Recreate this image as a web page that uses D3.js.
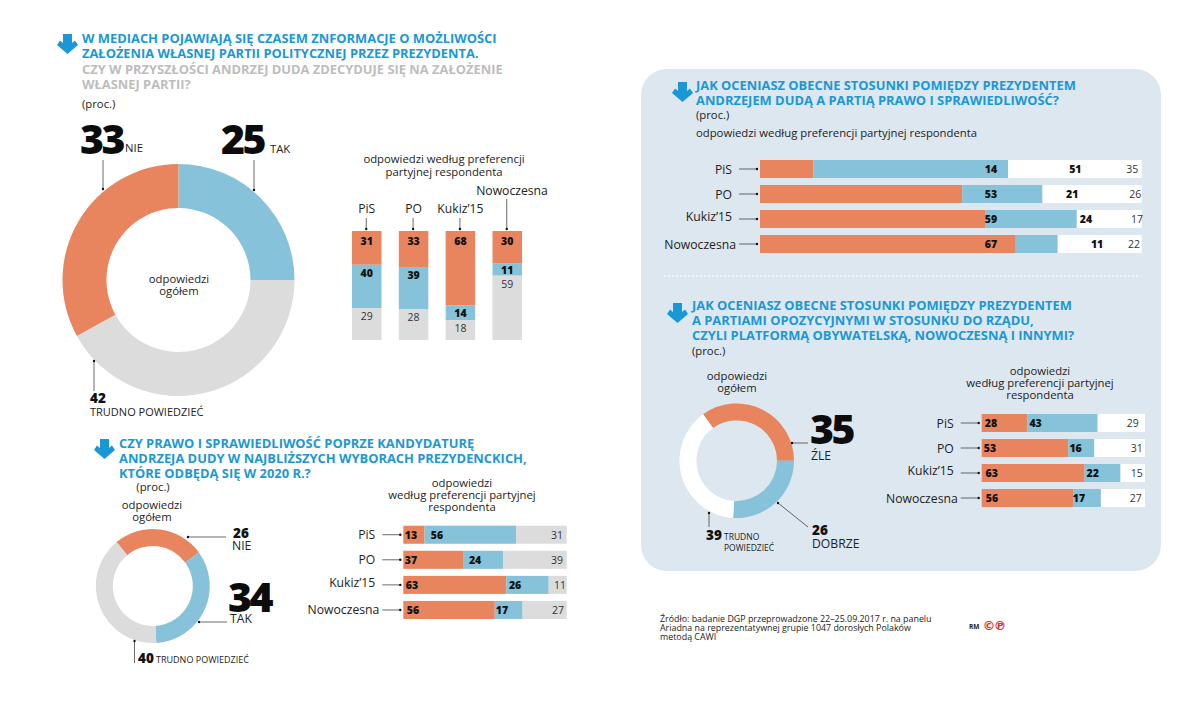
<!DOCTYPE html>
<html>
<head>
<meta charset="utf-8">
<script src="https://cdn.jsdelivr.net/npm/d3@7"></script>
<style>
  html, body { margin: 0; background: #fff; }
  svg { display: block; }
  text { font-family: "Open Sans", sans-serif; fill: #222; }
  .title { font-weight: 700; font-size: 12.9px; fill: #1a98d5; }
  .title.grey { fill: #bdbdbd; }
  .body { font-size: 11.3px; }
  .caps { font-size: 11px; }
  .tiny { font-size: 8.5px; }
  .source { font-size: 8.9px; }
  .party { font-size: 12.2px; }
  .val { font-size: 10.5px; fill: #333; }
  .val.b { font-weight: 800; fill: #111; }
  .big { font-weight: 800; font-size: 41px; letter-spacing: -2.5px; fill: #0c0c0c; }
  .num { font-weight: 800; font-size: 13.5px; fill: #111; }
  .mark { font-family: "DejaVu Sans", sans-serif; font-size: 12.5px; font-weight: 700; fill: #d9342b; }
</style>
</head>
<body>
<svg id="chart" width="1200" height="715"></svg>
<script>
const parties = ["PiS", "PO", "Kukiz’15", "Nowoczesna"];

// donuts
const ownPartyTotal = [25, 42, 33];
const supportTotal = [26, 34, 40];
const oppositionTotal = [35, 26, 39];

// [orange, blue, rest] per party
const ownPartyByParty = [[31, 40, 29], [33, 39, 28], [68, 14, 18], [30, 11, 59]];
const supportByParty = [[13, 56, 31], [37, 24, 39], [63, 26, 11], [56, 17, 27]];
const pisRelationByParty = [[14, 51, 35], [53, 21, 26], [59, 24, 17], [67, 11, 22]];
const oppositionByParty = [[28, 43, 29], [53, 16, 31], [63, 22, 15], [56, 17, 27]];

// where the printed numbers sit along each bar, on the 0-100 axis
const supportLabelAt = [[4.7, 20.6, 94], [4.7, 43.9, 94], [5.3, 68.4, 95.9], [5.9, 60.4, 94.7]];
const pisLabelAt = [[60.5, 82.6, 97.5], [60.5, 81.8, 98.3], [60.5, 85.4, 98.8], [60.5, 88.3, 98]];
const oppositionLabelAt = [[5.7, 33, 92.5], [5.1, 57.5, 94.9], [6.1, 68, 94.9], [6.3, 59.6, 94.3]];

const orange = "#e8855f", blue = "#86c2d9", grey = "#dcdcdc", white = "#fff";

const svg = d3.select("#chart");

function addText(x, y, str, cls, anchor) {
  return svg.append("text")
    .attr("x", x).attr("y", y)
    .attr("class", cls)
    .attr("text-anchor", anchor || "start")
    .text(str);
}

function addLines(x, y, lineH, lines, cls, anchor) {
  lines.forEach((l, i) => addText(x, y + i * lineH, l, cls, anchor));
}

// thin line with a small dot on the end that points at the mark
function leader(x1, y1, x2, y2) {
  svg.append("line")
    .attr("x1", x1).attr("y1", y1).attr("x2", x2).attr("y2", y2)
    .attr("stroke", "#444").attr("stroke-width", 0.8);
  svg.append("circle").attr("cx", x2).attr("cy", y2).attr("r", 1.2).attr("fill", "#111");
}

function arrow(x, y) {
  svg.append("path")
    .attr("transform", `translate(${x},${y})`)
    .attr("d", "M6,0 L15,0 L15,9 L18,6.5 L21,11 L10.5,20 L0,11 L3,6.5 L6,9 Z")
    .attr("fill", "#1a98d5");
}

function donut(cx, cy, outer, inner, values, colors, startDeg) {
  const start = startDeg * Math.PI / 180;
  const pie = d3.pie().sort(null).startAngle(start).endAngle(start + 2 * Math.PI);
  const arc = d3.arc().innerRadius(inner).outerRadius(outer);
  svg.append("g")
    .attr("transform", `translate(${cx},${cy})`)
    .selectAll("path")
    .data(pie(values))
    .join("path")
    .attr("d", arc)
    .attr("fill", (d, i) => colors[i]);
}

function hBars(x0, x1, y0, y1, rows, labelAt, restColor) {
  const x = d3.scaleLinear().domain([0, 100]).range([x0, x1]);
  const y = d3.scaleBand().domain(parties).range([y0, y1]).paddingInner(0.28);
  const colors = [orange, blue, restColor];
  rows.forEach((row, r) => {
    const g = svg.append("g");
    const stack = d3.cumsum(row);
    g.selectAll("rect")
      .data(row)
      .join("rect")
      .attr("x", (d, i) => x(stack[i] - d))
      .attr("y", y(parties[r]))
      .attr("width", (d) => x(d) - x(0))
      .attr("height", y.bandwidth())
      .attr("fill", (d, i) => colors[i]);
    g.selectAll("text")
      .data(row)
      .join("text")
      .attr("x", (d, i) => x(labelAt[r][i]))
      .attr("y", y(parties[r]) + y.bandwidth() / 2 + 4)
      .attr("text-anchor", "middle")
      .attr("class", (d, i) => (i < 2 ? "val b" : "val"))
      .text((d) => d);
    const mid = y(parties[r]) + y.bandwidth() / 2;
    const longName = parties[r] == "Nowoczesna";
    addText(x0 - (longName ? 24 : 28), mid + (parties[r] == "Kukiz’15" ? 2 : 4.5), parties[r], "party", "end");
    leader(x0 - 21, mid, x0 - 3, mid);
  });
}

function vBars(x0, x1, y0, y1, rows) {
  const x = d3.scaleBand().domain(parties).range([x0, x1]).paddingInner(0.37);
  const y = d3.scaleLinear().domain([0, 100]).range([y0, y1]);
  const colors = [orange, blue, grey];
  rows.forEach((row, r) => {
    const stack = d3.cumsum(row);
    const g = svg.append("g").attr("transform", `translate(${x(parties[r])},0)`);
    g.selectAll("rect")
      .data(row)
      .join("rect")
      .attr("y", (d, i) => y(stack[i] - d))
      .attr("width", x.bandwidth())
      .attr("height", (d) => y(d) - y(0))
      .attr("fill", (d, i) => colors[i]);
    g.selectAll("text")
      .data(row)
      .join("text")
      .attr("x", x.bandwidth() / 2)
      .attr("y", (d, i) => y(stack[i] - d) + Math.min(i == 0 ? 14 : 12, (y(d) - y(0)) / 2 + 4))
      .attr("text-anchor", "middle")
      .attr("class", (d, i) => (i < 2 ? "val b" : "val"))
      .text((d) => d);
    const cx = x(parties[r]) + x.bandwidth() / 2;
    const isNow = parties[r] == "Nowoczesna";
    addText(isNow ? 512 : cx, isNow ? 195 : 213, parties[r], "party", "middle");
    leader(cx - 0.5, isNow ? 199 : 218, cx - 0.5, y0 - 2);
  });
}

// panel behind the right column
svg.append("rect")
  .attr("x", 641).attr("y", 69).attr("width", 520).attr("height", 502)
  .attr("rx", 26).attr("fill", "#dde7f0");

// top left: own party
arrow(57, 34);
addLines(82, 43, 15.3, [
  "W MEDIACH POJAWIAJĄ SIĘ CZASEM ZNFORMACJE O MOŻLIWOŚCI",
  "ZAŁOŻENIA WŁASNEJ PARTII POLITYCZNEJ PRZEZ PREZYDENTA."
], "title");
addLines(82, 74, 15.3, [
  "CZY W PRZYSZŁOŚCI ANDRZEJ DUDA ZDECYDUJE SIĘ NA ZAŁOŻENIE",
  "WŁASNEJ PARTII?"
], "title grey");
addText(82, 108, "(proc.)", "body");

donut(178.5, 280, 116, 72, ownPartyTotal, [blue, grey, orange], 0);
addLines(179, 283, 11.5, ["odpowiedzi", "ogółem"], "body", "middle");
addText(80, 154, "33", "big");
addText(125, 152, "NIE", "body");
addText(221, 154, "25", "big");
addText(270, 153, "TAK", "body");
leader(103, 160, 103, 189);
leader(254, 160, 254, 190);
leader(94, 391, 94, 361);
addText(90, 403, "42", "num");
addText(90, 416, "TRUDNO POWIEDZIEĆ", "caps");

addLines(444, 163, 12.5, ["odpowiedzi według preferencji", "partyjnej respondenta"], "body", "middle");
vBars(352, 522, 231, 340, ownPartyByParty);

// bottom left: support in 2020
arrow(94, 439);
addLines(119, 448, 15, [
  "CZY PRAWO I SPRAWIEDLIWOŚĆ POPRZE KANDYDATURĘ",
  "ANDRZEJA DUDY W NAJBLIŻSZYCH WYBORACH PREZYDENCKICH,",
  "KTÓRE ODBĘDĄ SIĘ W 2020 R.?"
], "title");
addText(153, 491, "(proc.)", "body", "middle");
addLines(152, 509, 12, ["odpowiedzi", "ogółem"], "body", "middle");

donut(152.8, 586, 57, 40, supportTotal, [orange, blue, grey], -39.6);
addText(233, 538, "26", "num");
addText(232, 550, "NIE", "party");
leader(226, 537, 188, 537);
addText(228, 612, "34", "big");
addText(230, 623, "TAK", "party");
leader(227, 622, 199, 622);
leader(134.5, 663, 134.5, 641);
addText(138, 663, "40", "num");
addText(156, 663, "TRUDNO POWIEDZIEĆ", "caps").style("font-size", "9px");

addLines(462, 487, 11.8, ["odpowiedzi", "według preferencji partyjnej", "respondenta"], "body", "middle");
hBars(403.3, 566.7, 525.7, 619, supportByParty, supportLabelAt, grey);

// right, upper: relations with PiS
arrow(672, 82);
addLines(696, 90, 15, [
  "JAK OCENIASZ OBECNE STOSUNKI POMIĘDZY PREZYDENTEM",
  "ANDRZEJEM DUDĄ A PARTIĄ PRAWO I SPRAWIEDLIWOŚĆ?"
], "title");
addText(696, 119, "(proc.)", "body");
addText(696, 137, "odpowiedzi według preferencji partyjnej respondenta", "body");
hBars(760, 1141.7, 160, 253, pisRelationByParty, pisLabelAt, white);

svg.append("line")
  .attr("x1", 664).attr("y1", 276).attr("x2", 1140).attr("y2", 276)
  .attr("stroke", "#fff").attr("stroke-width", 1.6)
  .attr("stroke-dasharray", "1.6 2.4");

// right, lower: relations with the opposition
arrow(667, 303);
addLines(692, 310, 15, [
  "JAK OCENIASZ OBECNE STOSUNKI POMIĘDZY PREZYDENTEM",
  "A PARTIAMI OPOZYCYJNYMI W STOSUNKU DO RZĄDU,",
  "CZYLI PLATFORMĄ OBYWATELSKĄ, NOWOCZESNĄ I INNYMI?"
], "title");
addText(692, 355, "(proc.)", "body");
addLines(737, 380, 12, ["odpowiedzi", "ogółem"], "body", "middle");

donut(736.7, 460.7, 57.3, 40.3, oppositionTotal, [orange, blue, white], -36);
addText(810, 444, "35", "big");
addText(811, 460, "ŹLE", "party");
leader(808, 443, 792, 443);
addText(812, 535, "26", "num");
addText(812, 548, "DOBRZE", "party");
leader(808, 527, 778, 503);
leader(709, 527, 709, 513);
addText(706, 540, "39", "num");
addLines(724, 540, 11, ["TRUDNO", "POWIEDZIEĆ"], "tiny");

addLines(1040, 375, 12, ["odpowiedzi", "według preferencji partyjnej", "respondenta"], "body", "middle");
hBars(981.7, 1145, 414, 507, oppositionByParty, oppositionLabelAt, white);

// source
addLines(660, 622, 9, [
  "Źródło: badanie DGP przeprowadzone 22–25.09.2017 r. na panelu",
  "Ariadna na reprezentatywnej grupie 1047 dorosłych Polaków",
  "metodą CAWI"
], "source");
addText(969, 629, "RM", "caps").style("font-size", "6.5px").style("font-weight", 700);
addText(989, 630, "©", "mark", "middle");
addText(1000, 630, "℗", "mark", "middle");
</script>
</body>
</html>
